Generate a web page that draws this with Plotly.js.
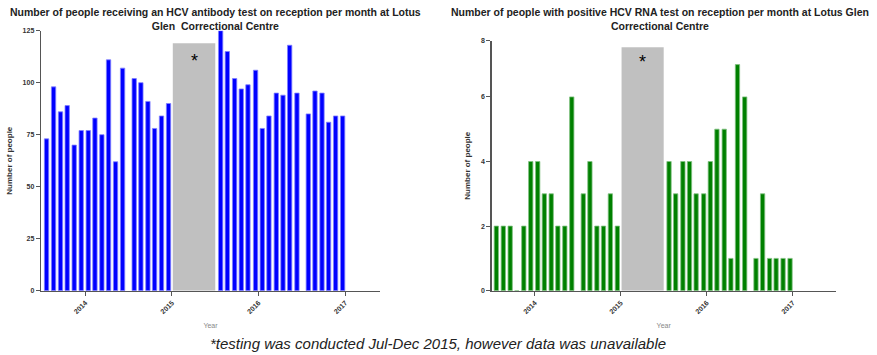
<!DOCTYPE html>
<html>
<head>
<meta charset="utf-8">
<script src="https://cdn.plot.ly/plotly-3.0.1.min.js"></script>
<style>html,body{margin:0;padding:0;background:#fff;}#chart{width:877px;height:355px;}</style>
</head>
<body>
<div id="chart"></div>
<script>
// Bar positions (decimal years)
const datesPre = [2013.554, 2013.635, 2013.715, 2013.792, 2013.873, 2013.954, 2014.035, 2014.112, 2014.192, 2014.269, 2014.350, 2014.431, 2014.565, 2014.642, 2014.723, 2014.800, 2014.880, 2014.961];
const datesPost = [2015.562, 2015.639, 2015.723, 2015.800, 2015.877, 2015.965, 2016.042, 2016.119, 2016.204, 2016.281, 2016.358, 2016.442, 2016.573, 2016.650, 2016.731, 2016.807, 2016.888, 2016.969];

// Number of people receiving an HCV antibody test
const antibodyPre = [73, 98, 86, 89, 70, 77, 77, 83, 75, 111, 62, 107, 102, 100, 91, 78, 84, 90];
const antibodyPost = [125, 115, 102, 97, 99, 106, 78, 84, 95, 94, 118, 95, 85, 96, 95, 81, 84, 84];

// Number of people with positive HCV RNA test
const rnaPre = [2, 2, 2, 0, 2, 4, 4, 3, 3, 2, 2, 6, 3, 4, 2, 2, 3, 2];
const rnaPost = [4, 3, 4, 4, 3, 3, 4, 5, 5, 1, 7, 6, 1, 3, 1, 1, 1, 1];

// Missing-data period (grey box)
const gapStart = 2015.01;
const gapEnd = 2015.50;
const gapHeightAntibody = 119;
const gapHeightRna = 7.54;

const yearTicks = [2014, 2015, 2016, 2017];
const yearLabels = ['2014', '2015', '2016', '2017'];
const antibodyTicks = [0, 25, 50, 75, 100, 125];
// the original's right axis stops a little under 8 but labels its top "8"
const rnaAxisTop = 7.74;
const rnaTicks = [0, 2, 4, 6, rnaAxisTop];
const rnaTickLabels = ['0', '2', '4', '6', '8'];

const titleLeft = 'Number of people receiving an HCV antibody test on reception per month at Lotus<br>Glen  Correctional Centre';
const titleRight = 'Number of people with positive HCV RNA test on reception per month at Lotus Glen<br>Correctional Centre';
const footnote = '*testing was conducted Jul-Dec 2015, however data was unavailable';

const FONT = 'Liberation Sans, Arial, sans-serif';
const barW = 0.05;

const allDates = datesPre.concat(datesPost);

const traces = [
  {
    type: 'bar', x: allDates, y: antibodyPre.concat(antibodyPost),
    width: barW, xaxis: 'x', yaxis: 'y',
    marker: {color: '#0000ff', line: {color: '#8080ff', width: 0.8}},
    hoverinfo: 'x+y', showlegend: false
  },
  {
    type: 'bar', x: allDates, y: rnaPre.concat(rnaPost),
    width: barW, xaxis: 'x2', yaxis: 'y2',
    marker: {color: '#008000', line: {color: '#80c080', width: 0.8}},
    hoverinfo: 'x+y', showlegend: false
  }
];

const axisCommon = {
  showline: true, linecolor: '#555', linewidth: 1.3,
  ticks: 'outside', ticklen: 4, tickwidth: 1, tickcolor: '#555',
  showgrid: false, zeroline: false,
  tickfont: {family: FONT, size: 7, color: '#333', weight: 'bold'},
  fixedrange: true
};

const layout = {
  width: 877, height: 355,
  margin: {l: 0, r: 0, t: 0, b: 0},
  paper_bgcolor: '#fff', plot_bgcolor: '#fff',
  bargap: 0,
  xaxis: Object.assign({}, axisCommon, {
    domain: [41/877, 380/877], range: [2013.49, 2017.4], anchor: 'y',
    tickmode: 'array', tickvals: yearTicks, ticktext: yearLabels, tickangle: -45,
    title: {text: 'Year', font: {family: FONT, size: 7, color: '#888'}, standoff: 9}
  }),
  yaxis: Object.assign({}, axisCommon, {
    domain: [(355-290.7)/355, (355-30.7)/355], range: [0, 125], anchor: 'x',
    tickmode: 'array', tickvals: antibodyTicks,
    title: {text: 'Number of people', font: {family: FONT, size: 8, color: '#333', weight: 'bold'}, standoff: 8}
  }),
  xaxis2: Object.assign({}, axisCommon, {
    domain: [491.7/877, 835.7/877], range: [2013.5, 2017.5], anchor: 'y2',
    tickmode: 'array', tickvals: yearTicks, ticktext: yearLabels, tickangle: -45,
    title: {text: 'Year', font: {family: FONT, size: 7, color: '#888'}, standoff: 9}
  }),
  yaxis2: Object.assign({}, axisCommon, {
    domain: [(355-290.7)/355, (355-40.7)/355], range: [0, rnaAxisTop], anchor: 'x2',
    tickmode: 'array', tickvals: rnaTicks, ticktext: rnaTickLabels,
    title: {text: 'Number of people', font: {family: FONT, size: 8, color: '#333', weight: 'bold'}, standoff: 9}
  }),
  shapes: [
    {type: 'rect', xref: 'x', yref: 'y', x0: gapStart, x1: gapEnd, y0: 0, y1: gapHeightAntibody,
     fillcolor: '#c0c0c0', line: {width: 0}, layer: 'below'},
    {type: 'rect', xref: 'x2', yref: 'y2', x0: gapStart, x1: gapEnd, y0: 0, y1: gapHeightRna,
     fillcolor: '#c0c0c0', line: {width: 0}, layer: 'below'}
  ],
  annotations: [
    {text: titleLeft, xref: 'paper', yref: 'paper', x: 215/877, y: 1 - 4/355, xanchor: 'center', yanchor: 'top',
     showarrow: false, align: 'center', font: {family: FONT, size: 10.5, color: '#222', weight: 'bold'}},
    {text: titleRight, xref: 'paper', yref: 'paper', x: 660/877, y: 1 - 4/355, xanchor: 'center', yanchor: 'top',
     showarrow: false, align: 'center', font: {family: FONT, size: 10.5, color: '#222', weight: 'bold'}},
    {text: '*', xref: 'x', yref: 'y', x: (gapStart + gapEnd) / 2, y: gapHeightAntibody - 8.5, showarrow: false,
     yanchor: 'middle', font: {family: FONT, size: 18, color: '#000'}},
    {text: '*', xref: 'x2', yref: 'y2', x: (gapStart + gapEnd) / 2, y: gapHeightRna - 0.45, showarrow: false,
     yanchor: 'middle', font: {family: FONT, size: 18, color: '#000'}},
    {text: '<i>' + footnote + '</i>', xref: 'paper', yref: 'paper', x: 438/877, y: (355-343)/355,
     xanchor: 'center', yanchor: 'middle', showarrow: false, font: {family: FONT, size: 15, color: '#222'}}
  ]
};

Plotly.newPlot('chart', traces, layout, {displayModeBar: false, staticPlot: true});
</script>
</body>
</html>
